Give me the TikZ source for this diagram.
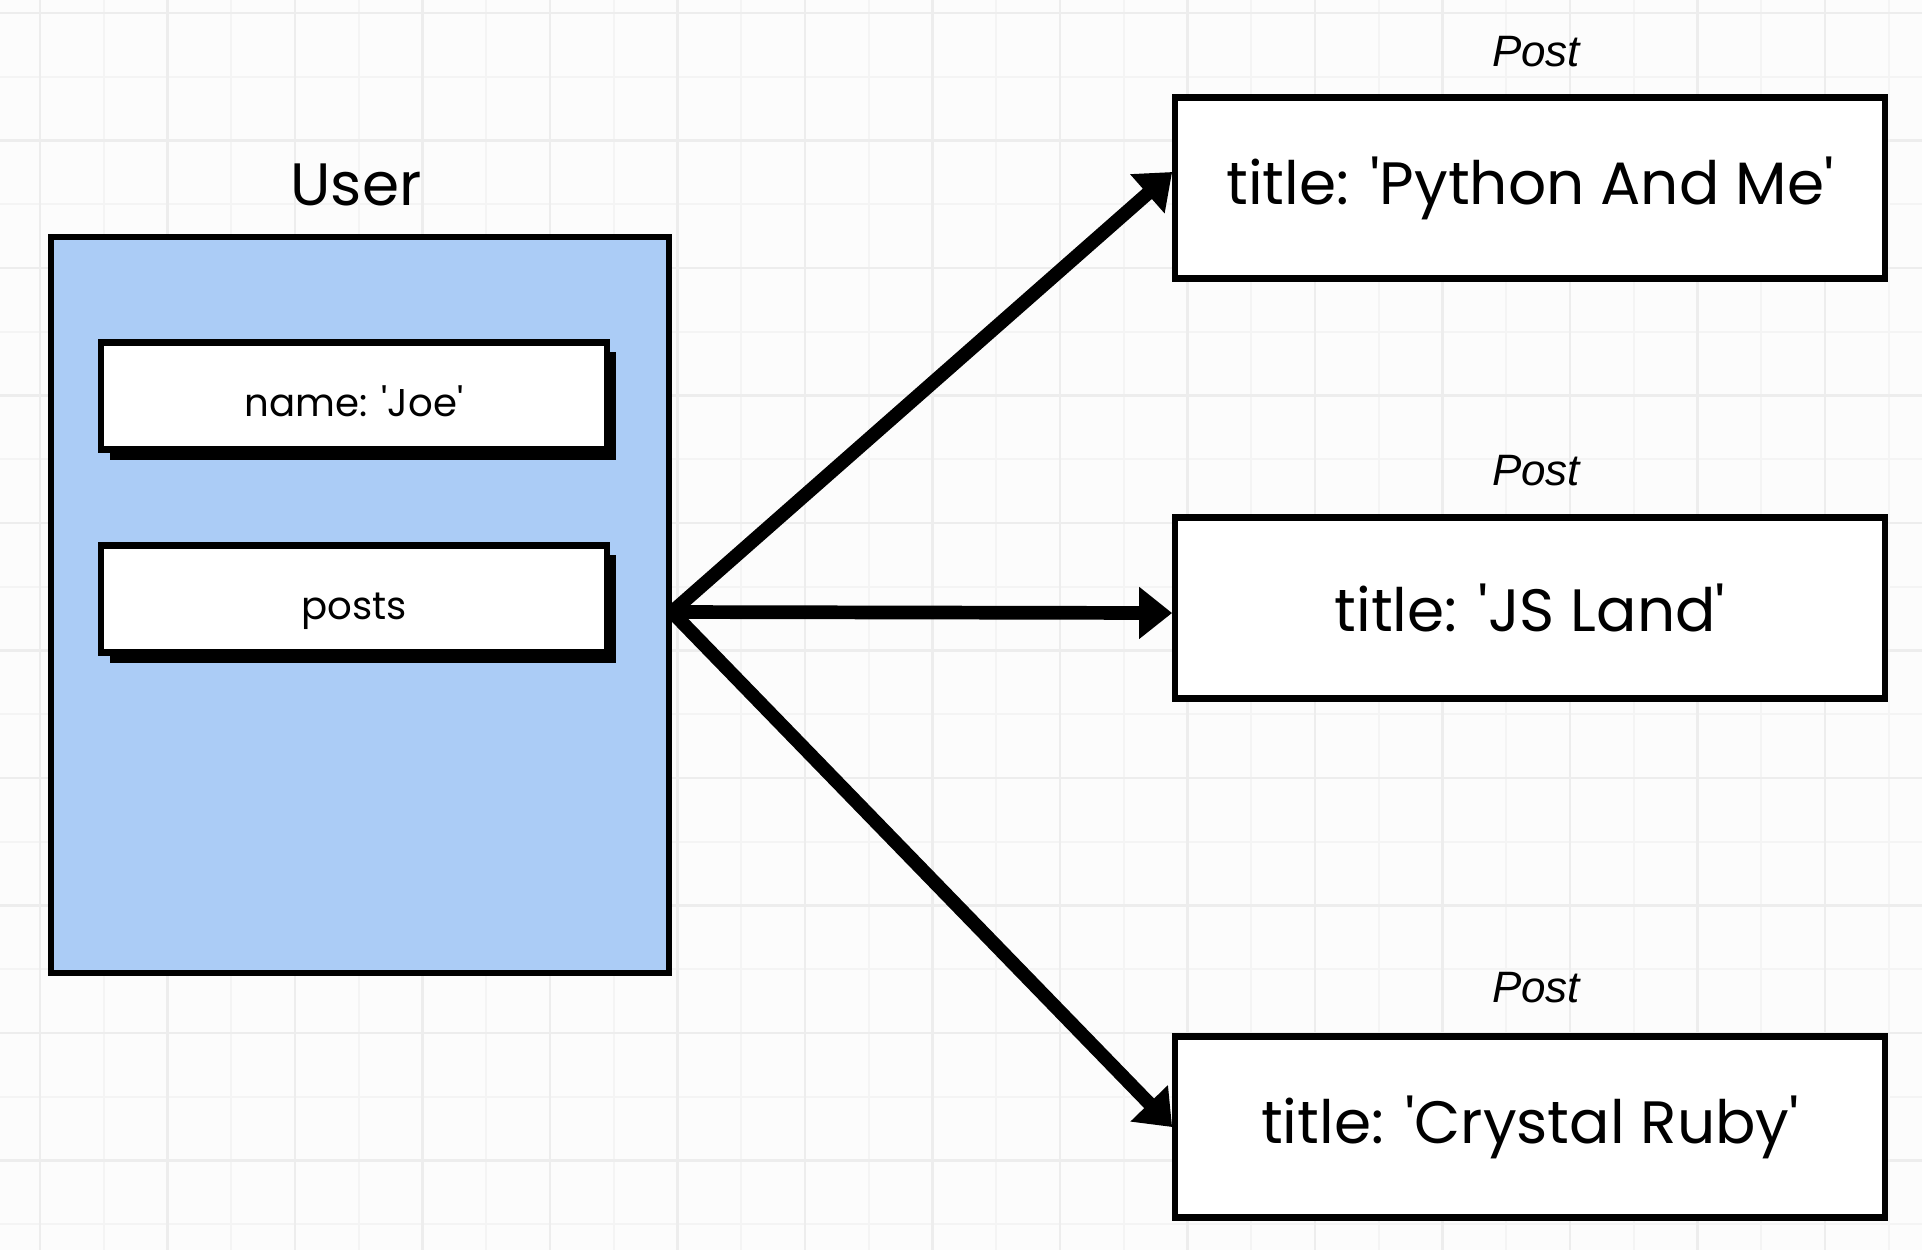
\documentclass[tikz,border=0pt]{standalone}
\usepackage{fontspec}
\newfontfamily\uifont{Poppins}
\newfontfamily\labelfont{Liberation Sans}
\usetikzlibrary{arrows.meta,shadows,positioning}
\definecolor{userblue}{RGB}{171,204,246}
\definecolor{paper}{RGB}{252,252,252}
\definecolor{gridmajor}{RGB}{237,237,237}
\definecolor{gridminor}{RGB}{244,244,244}

\begin{document}
\begin{tikzpicture}[x=0.01cm,y=-0.01cm]
	\tikzset{model/.style={draw,line width=1.8pt,fill=userblue,minimum width=6.18cm,minimum height=7.36cm}}
	\tikzset{field/.style={draw,line width=1.8pt,fill=white,minimum width=5.06cm,minimum height=1.07cm,text height=11.4pt,text depth=0pt,font=\uifont\fontsize{11}{13}\selectfont,drop shadow={shadow xshift=0.09cm,shadow yshift=-0.1cm,fill=black,opacity=1}}}
	\tikzset{post/.style={draw,line width=1.8pt,fill=white,minimum width=7.09cm,minimum height=1.81cm,font=\uifont\fontsize{17}{20}\selectfont}}
	\tikzset{caption/.style={font=\labelfont\itshape\fontsize{12.5}{15}\selectfont}}
	\tikzset{link/.style={line width=3.9pt,-{Triangle[length=0.33cm,width=0.5cm]}}}
	% paper and grid
	\useasboundingbox (0,0) rectangle (1922,1250);
	\fill[paper] (0,0) rectangle (1922,1250);
	\foreach \k in {-1,...,14} \draw[gridminor,line width=0.6pt] ({103.75+127.5*\k},0) -- ({103.75+127.5*\k},1250);
	\foreach \k in {0,...,9} \draw[gridminor,line width=0.6pt] (0,{76.75+127.5*\k}) -- (1922,{76.75+127.5*\k});
	\foreach \k in {0,...,14} \draw[gridmajor,line width=0.6pt] ({40+127.5*\k},0) -- ({40+127.5*\k},1250);
	\foreach \k in {0,...,9} \draw[gridmajor,line width=0.6pt] (0,{13+127.5*\k}) -- (1922,{13+127.5*\k});
	% user model
	\node[model] (user) at (360,605) {};
	\node[font=\uifont\fontsize{17}{20}\selectfont] (usertitle) at (356,185) {User};
	\node[field] (name) at (354,396) {name: 'Joe'};
	\node[field] (posts) at (354,599) {posts};
	% posts
	\node[post] (p1) at (1530,188) {title: 'Python And Me'};
	\node[post] (p2) at (1530,608) {title: 'JS Land'};
	\node[post] (p3) at (1530,1127) {title: 'Crystal Ruby'};
	\node[caption] (c1) at (1536,52) {Post};
	\node[caption] (c2) at (1536,471) {Post};
	\node[caption] (c3) at (1536,988) {Post};
	% links
	\coordinate (hub) at (672,612);
	\draw[link] (hub) -- ([yshift=0.16cm]p1.west);
	\draw[link] (hub) -- ([yshift=-0.05cm]p2.west);
	\draw[link] (hub) -- (p3.west);
\end{tikzpicture}
\end{document}
